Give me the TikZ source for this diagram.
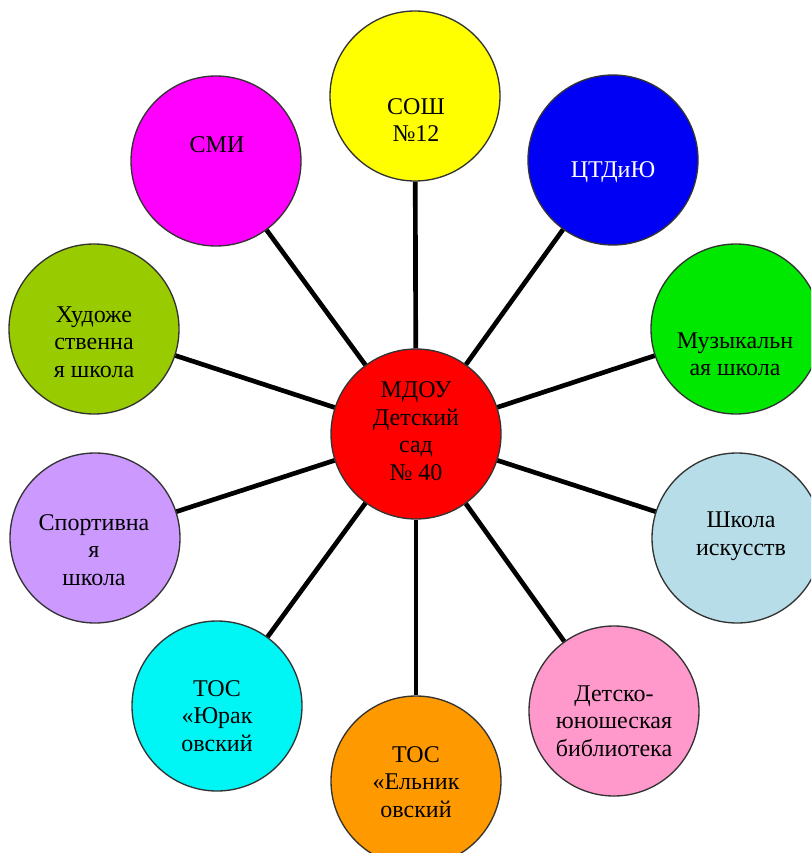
\documentclass[tikz,border=0pt]{standalone}
\usepackage{fontspec}
\setmainfont{Liberation Serif}
\newfontfamily\tnrfont{Liberation Serif}
\usepackage{tikz}
\definecolor{cRed}{HTML}{FF0000}
\definecolor{cYellow}{HTML}{FFFF00}
\definecolor{cBlue}{HTML}{0000F5}
\definecolor{cGreen}{HTML}{00E800}
\definecolor{cLightBlue}{HTML}{B7DDE8}
\definecolor{cPink}{HTML}{FF99CC}
\definecolor{cOrange}{HTML}{FF9900}
\definecolor{cCyan}{HTML}{00F5F5}
\definecolor{cLavender}{HTML}{CC99FF}
\definecolor{cOlive}{HTML}{99CC00}
\definecolor{cMagenta}{HTML}{FF00FF}
\begin{document}
\begin{tikzpicture}[x=0.75pt,y=-0.75pt,
  orb/.style={circle, draw=black!80, line width=1pt, minimum size=127.5pt, inner sep=0pt},
  lbl/.style={align=center, font=\tnrfont\fontsize{18}{20.6}\selectfont, inner sep=0pt},
  link/.style={line width=3.5pt, black}]
\clip (0,0) rectangle (811,853);
\fill[white] (0,0) rectangle (811,853);
% circles
\node[orb, fill=cRed] (c) at (416,434) {};
\node[orb, fill=cYellow] (n1) at (415,96) {};
\node[orb, fill=cBlue] (n2) at (613,160) {};
\node[orb, fill=cGreen] (n3) at (736,329) {};
\node[orb, fill=cLightBlue] (n4) at (737,538) {};
\node[orb, fill=cPink] (n5) at (614,711) {};
\node[orb, fill=cOrange] (n6) at (416,781) {};
\node[orb, fill=cCyan] (n7) at (217,706) {};
\node[orb, fill=cLavender] (n8) at (95,538) {};
\node[orb, fill=cOlive] (n9) at (94,329) {};
\node[orb, fill=cMagenta] (n10) at (216,161) {};
% connectors
\foreach \n in {n1,n2,n3,n4,n5,n6,n7,n8,n9,n10}
  \draw[link] (c) -- (\n);
% labels
\node[lbl] (t0) at (416,431) {МДОУ\\Детский\\сад\\№ 40};
\node[lbl] (t1) at (416,120) {СОШ\\№12};
\node[lbl, text=white] (t2) at (613,172) {ЦТДиЮ};
\node[lbl] (t3) at (735,354) {Музыкальн\\ая школа};
\node[lbl] (t4) at (741,536) {Школа\\искусств};
\node[lbl] (t5) at (614,721) {Детско-\\юношеская\\библиотека};
\node[lbl] (t6) at (416,782) {ТОС\\«Ельник\\овский};
\node[lbl] (t7) at (217,716) {ТОС\\«Юрак\\овский};
\node[lbl] (t8) at (94,550) {Спортивна\\я\\школа};
\node[lbl] (t9) at (94,342) {Художе\\ственна\\я школа};
\node[lbl] (t10) at (217,145) {СМИ};
\end{tikzpicture}
\end{document}
